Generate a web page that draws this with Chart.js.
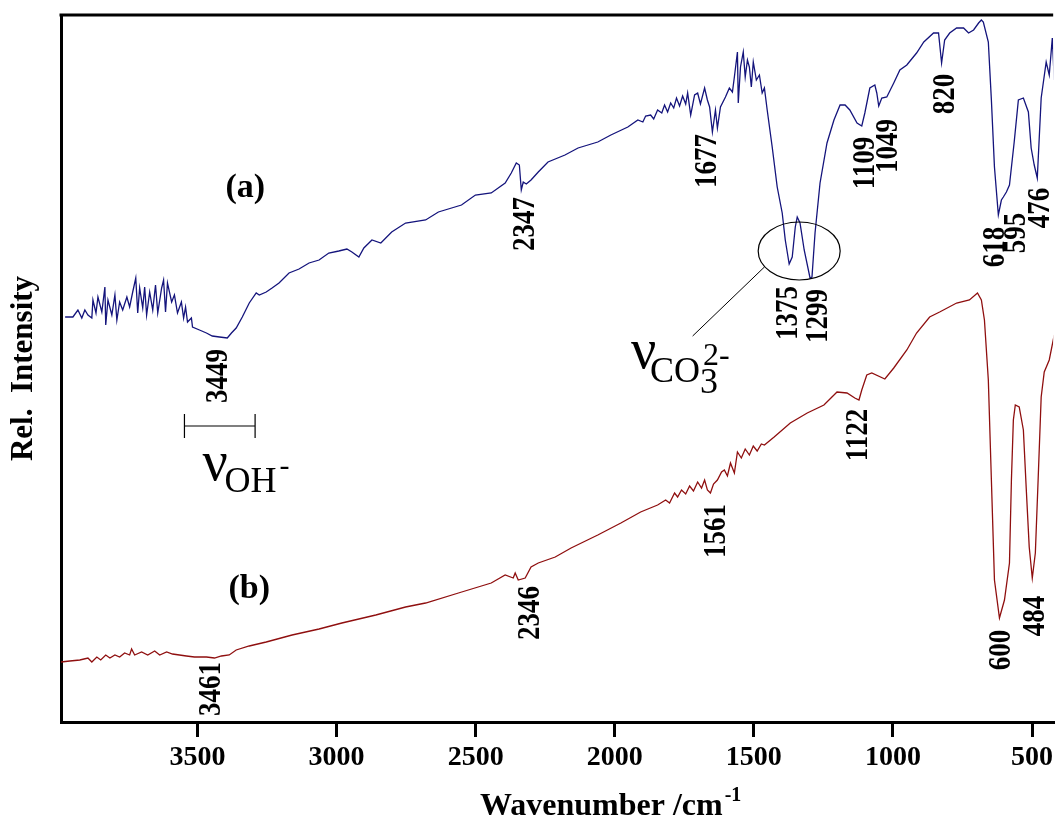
<!DOCTYPE html>
<html><head><meta charset="utf-8">
<script src="https://cdn.jsdelivr.net/npm/chart.js@4/dist/chart.umd.min.js"></script>
<style>html,body{margin:0;padding:0;background:#fff}#wrap{width:1057px;height:819px}</style>
</head><body><div id="wrap"><canvas id="c" width="1057" height="819"></canvas></div>
<script>
// ---- data (wavenumber in cm-1, relative intensity in arbitrary units) ----
const xTicks = [3500, 3000, 2500, 2000, 1500, 1000, 500];

const waveA = [3976,3948,3930,3916,3905,3894,3880,3876,3865,3858,
3844,3833,3830,3822,3808,3797,3790,3780,3769,3754,
3744,3733,3722,3715,3708,3697,3690,3683,3672,3661,
3651,3643,3629,3622,3615,3608,3593,3583,3572,3558,
3550,3543,3536,3522,3518,3493,3468,3447,3421,3393,
3378,3361,3339,3314,3289,3278,3253,3232,3207,3171,
3135,3099,3063,3028,2992,2963,2945,2920,2902,2873,
2841,2802,2752,2680,2634,2551,2501,2444,2394,2372,
2354,2343,2336,2329,2318,2301,2275,2240,2179,2132,
2061,2014,1953,1917,1899,1889,1871,1860,1846,1831,
1821,1810,1799,1788,1778,1767,1756,1745,1738,1727,
1713,1702,1692,1677,1667,1659,1649,1638,1631,1620,
1602,1588,1577,1570,1559,1556,1548,1538,1531,1523,
1516,1509,1502,1491,1480,1470,1462,1452,1434,1416,
1398,1387,1373,1362,1351,1344,1334,1319,1298,1291,
1280,1262,1237,1212,1190,1172,1155,1129,1112,1101,
1083,1065,1058,1051,1040,1022,997,975,950,915,
889,854,836,825,814,796,771,746,728,710,
692,682,675,657,646,635,621,610,603,592,
581,564,549,531,513,503,492,481,467,449,
438,427,420];
const intA = [40.5,40.5,41.2,40.4,41.2,40.7,40.4,42.2,40.9,42.5,
41.0,43.5,39.7,42.2,40.7,42.7,40.2,42.0,41.2,42.5,
41.5,43.0,44.4,40.9,43.4,41.4,43.5,40.7,43.0,41.2,
43.7,40.9,43.4,44.2,41.0,43.9,42.0,42.7,40.9,42.0,
40.4,41.5,40.0,40.4,39.5,39.2,38.9,38.6,38.5,38.4,
38.9,39.4,40.5,41.9,42.9,42.7,43.0,43.4,43.9,44.9,
45.3,45.9,46.2,46.9,47.1,47.3,47.0,46.5,47.4,48.2,
47.9,49.0,49.9,50.2,51.0,51.7,52.7,52.9,53.9,54.9,
55.9,55.7,53.2,54.0,53.8,54.2,55.0,56.0,56.7,57.4,
58.0,58.7,59.5,60.2,60.0,60.6,60.7,60.3,61.2,60.9,
61.7,61.0,61.9,61.4,62.4,61.6,62.6,61.8,62.9,60.7,
62.7,62.9,61.8,63.4,62.2,61.5,59.0,61.2,59.4,61.5,
62.5,63.4,63.0,64.5,67.0,61.9,65.5,67.0,64.5,66.2,
65.5,63.5,66.0,64.2,64.7,62.9,63.4,61.2,57.5,53.5,
50.9,48.2,45.8,46.5,49.5,50.5,49.9,47.2,44.4,44.5,
48.9,53.9,57.9,60.2,61.7,61.7,61.2,59.9,59.6,60.9,
63.4,63.7,62.9,61.6,62.4,62.5,63.9,65.2,65.7,66.9,
68.0,68.9,68.9,65.9,68.2,68.9,69.4,69.4,68.9,69.2,
69.9,70.2,70.0,68.0,62.2,55.5,50.7,52.2,52.5,53.0,
53.7,58.0,62.2,62.4,61.0,57.4,55.7,54.4,62.4,66.0,
64.7,68.4,64.2];

const waveB = [3991,3959,3923,3894,3880,3862,3848,3830,3815,3797,
3780,3762,3744,3737,3726,3701,3679,3654,3636,3611,
3590,3565,3540,3511,3468,3439,3414,3386,3361,3314,
3253,3160,3063,2981,2859,2752,2680,2562,2444,2394,
2365,2358,2347,2322,2301,2275,2214,2157,2061,1978,
1907,1846,1817,1803,1785,1774,1760,1745,1731,1717,
1702,1688,1677,1667,1656,1645,1631,1616,1606,1595,
1584,1570,1559,1545,1531,1516,1502,1488,1473,1462,
1427,1369,1308,1248,1201,1165,1137,1122,1112,1094,
1076,1029,997,950,915,868,832,771,725,696,
682,671,657,646,635,617,599,581,574,567,
560,546,531,521,510,499,488,478,467,456,
438,420];
const intB = [6.0,6.1,6.2,6.4,6.0,6.5,6.2,6.7,6.4,6.7,
6.5,6.9,6.7,7.3,6.7,7.0,6.7,7.1,6.7,7.0,
6.8,6.7,6.6,6.5,6.5,6.4,6.6,6.7,7.2,7.6,
8.0,8.7,9.3,9.9,10.7,11.5,11.9,12.9,13.9,14.7,
14.4,14.9,14.2,14.4,15.5,15.9,16.5,17.4,18.7,19.9,
21.0,21.7,22.2,21.9,22.9,22.5,23.2,22.8,23.6,23.1,
24.0,23.4,24.2,23.2,22.9,23.8,24.2,25.0,25.2,24.6,
25.9,24.9,27.0,26.4,27.3,26.7,27.6,27.1,27.8,27.7,
28.5,29.9,30.9,31.7,33.0,32.9,32.4,32.2,33.2,34.7,
34.9,34.3,35.4,37.2,38.9,40.5,41.0,41.9,42.2,42.9,
42.2,40.2,34.2,24.2,14.2,10.4,12.2,15.9,24.2,30.2,
31.7,31.5,29.2,23.5,17.5,14.4,16.9,24.2,32.5,35.0,
36.2,38.7];

// peak labels (text) and where they sit, in data coordinates
const peakText = ['3449','2347','1677','1375','1299','1109','1049','820','618','595','476',
                  '3461','2346','1561','1122','600','484'];
const peakAnchorW = [3432,2329,1674,1384,1276,1104,1022,818,639,563,478,3457,2308,1642,1129,617,496];
const peakAnchorV = [34.6,49.8,56.1,40.9,40.6,55.9,57.6,62.8,47.5,48.9,51.4,3.3,10.9,19.1,28.7,7.2,10.6];
const seriesText = ['(a)','(b)'];
const seriesAnchorW = [3328, 3314];
const seriesAnchorV = [53.6, 13.5];

// ---- drawing ----
const SERIF = '"Liberation Serif", "Times New Roman", serif';

const overlay = {
  id: 'overlay',
  afterDraw(chart) {
    const ctx = chart.ctx, xs = chart.scales.x, ys = chart.scales.y, ca = chart.chartArea;
    const P = (w, v) => [xs.getPixelForValue(w), ys.getPixelForValue(v)];
    ctx.save();
    // top frame line
    ctx.strokeStyle = '#000'; ctx.lineWidth = 3;
    ctx.beginPath(); ctx.moveTo(ca.left - 1.5, ca.top); ctx.lineTo(ca.right, ca.top); ctx.stroke();

    ctx.fillStyle = '#000';
    // rotated peak labels
    const fs = 27;
    ctx.font = 'bold ' + fs + 'px ' + SERIF;
    ctx.textAlign = 'center'; ctx.textBaseline = 'alphabetic';
    peakText.forEach((t, i) => {
      const [px, py] = P(peakAnchorW[i], peakAnchorV[i]);
      ctx.save(); ctx.translate(px, py); ctx.rotate(-Math.PI / 2); ctx.scale(1, 1.14);
      ctx.fillText(t, 0, fs * 0.338); ctx.restore();
    });
    // series labels
    ctx.font = 'bold 34px ' + SERIF;
    seriesText.forEach((t, i) => {
      const [px, py] = P(seriesAnchorW[i], seriesAnchorV[i]);
      ctx.fillText(t, px, py + 11);
    });

    // CO3 ellipse and leader line
    ctx.strokeStyle = '#000'; ctx.lineWidth = 1.2;
    let [ex, ey] = P(1337, 47.1);
    ctx.beginPath(); ctx.ellipse(ex, ey, 41, 29, 0, 0, Math.PI * 2); ctx.stroke();
    let [l1x, l1y] = P(1720, 38.6), [l2x, l2y] = P(1462, 45.5);
    ctx.lineWidth = 1;
    ctx.beginPath(); ctx.moveTo(l1x, l1y); ctx.lineTo(l2x, l2y); ctx.stroke();

    // OH range bar
    let [b1x, by] = P(3547, 29.6), [b2x] = P(3293, 29.6);
    ctx.lineWidth = 1.2;
    ctx.beginPath();
    ctx.moveTo(b1x, by); ctx.lineTo(b2x, by);
    ctx.moveTo(b1x, by - 12); ctx.lineTo(b1x, by + 12);
    ctx.moveTo(b2x, by - 12); ctx.lineTo(b2x, by + 12);
    ctx.stroke();

    // nu labels
    ctx.textAlign = 'left';
    let [nx, ny] = P(3482, 24.2);
    ctx.font = '56px ' + SERIF; ctx.fillText('ν', nx, ny);
    ctx.font = '36px ' + SERIF; ctx.fillText('OH', nx + 22, ny + 12);
    ctx.font = '30px ' + SERIF; ctx.fillText('-', nx + 77, ny - 5);

    let [cx, cy] = P(1942, 35.4);
    ctx.font = '56px ' + SERIF; ctx.fillText('ν', cx, cy);
    ctx.font = '36px ' + SERIF; ctx.fillText('CO', cx + 19, cy + 14);
    ctx.fillText('3', cx + 69, cy + 25);
    ctx.font = '32px ' + SERIF; ctx.fillText('2-', cx + 72, cy - 3);

    // x axis title
    ctx.font = 'bold 32px ' + SERIF;
    const t1 = 'Wavenumber /cm';
    const tx = 480, tyy = 815;
    ctx.fillText(t1, tx, tyy);
    const w1 = ctx.measureText(t1).width;
    ctx.font = 'bold 20px ' + SERIF;
    ctx.fillText('-1', tx + w1 + 2, tyy - 14);
    ctx.restore();
  }
};

new Chart(document.getElementById('c'), {
  type: 'line',
  data: {
    datasets: [
      { label: '(a)', data: waveA.map((w, i) => ({ x: w, y: intA[i] })),
        borderColor: '#14147c', borderWidth: 1.3, pointRadius: 0, tension: 0, fill: false },
      { label: '(b)', data: waveB.map((w, i) => ({ x: w, y: intB[i] })),
        borderColor: '#8f0f0f', borderWidth: 1.3, pointRadius: 0, tension: 0, fill: false }
    ]
  },
  options: {
    responsive: false, animation: false, devicePixelRatio: 1,
    layout: { padding: { top: 15, right: 0, left: 0, bottom: 0 } },
    plugins: { legend: { display: false }, tooltip: { enabled: false } },
    scales: {
      x: {
        type: 'linear', reverse: true, min: 423.9, max: 3990.8,
        afterBuildTicks: s => { s.ticks = xTicks.map(v => ({ value: v })); },
        afterFit: s => { s.height = 97; },
        ticks: { color: '#000', padding: 4, maxRotation: 0, autoSkip: false,
                 font: { family: SERIF, size: 28, weight: 'bold' }, callback: v => String(v) },
        grid: { display: true, drawOnChartArea: false, drawTicks: true, tickLength: 15, lineWidth: 3, color: '#000' },
        border: { display: true, width: 3, color: '#000' }
      },
      y: {
        min: 0, max: 70.7,
        afterFit: s => { s.width = 61; },
        ticks: { display: false },
        grid: { display: false, drawTicks: false },
        border: { display: true, width: 3, color: '#000' },
        title: { display: true, text: 'Rel.  Intensity', color: '#000', padding: { top: 5, bottom: 0 },
                 font: { family: SERIF, size: 31, weight: 'bold' } }
      }
    }
  },
  plugins: [overlay]
});
</script></body></html>
